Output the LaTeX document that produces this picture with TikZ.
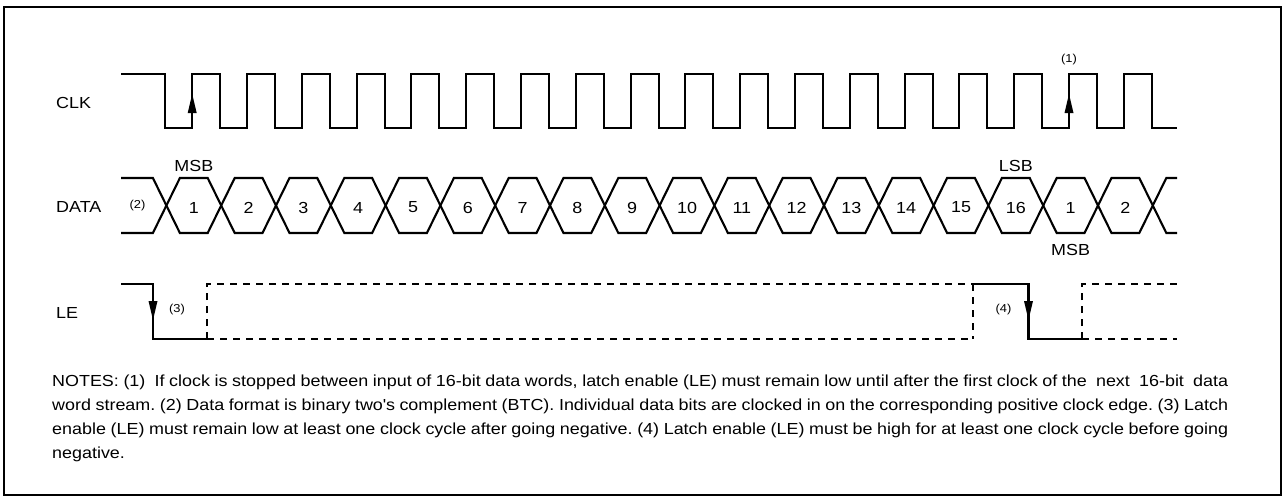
\documentclass[tikz,border=0pt]{standalone}
\usepackage{fontspec}
\setmainfont{Liberation Sans}[FakeStretch=1.12]
\frenchspacing
\begin{document}
\begin{tikzpicture}[x=1pt,y=-1pt,
  sig/.style={line width=2.1pt, line join=miter},
  dsh/.style={line width=2.1pt, dash pattern=on 7pt off 6pt},
  lbl/.style={font=\fontsize{16}{19}\selectfont, inner sep=0pt},
  sml/.style={font=\fontsize{11.5}{13}\selectfont, inner sep=0pt},
  note/.style={font=\fontsize{16}{24}\selectfont, inner sep=0pt, anchor=base west},
  tip/.style={fill=black}]
\useasboundingbox (0,0) rectangle (1283,498);
\draw[line width=1.6pt] (4,7) rectangle (1281,495);
% signal names
\node[lbl, anchor=west] (clk) at (56,102.5) {CLK};
\node[lbl, anchor=west] (data) at (56,207) {DATA};
\node[lbl, anchor=west] (le) at (56,313) {LE};
% CLK waveform
\draw[sig] (121,74) \foreach \k in {0,...,17} {
   -- ({165.4+54.8*\k},74) -- ({165.4+54.8*\k},128)
   -- ({192.2+54.8*\k},128) -- ({192.2+54.8*\k},74) }
   -- (1151.8,74) -- (1151.8,128) -- (1177,128);
\fill[tip] (187.7,113) -- (196.7,113) -- (192.2,94) -- cycle;
\fill[tip] (1064.5,113) -- (1073.5,113) -- (1069,94) -- cycle;
\node[sml] (n1) at (1069,60) {(1)};
% DATA waveform
\draw[sig] (121,178) \foreach \k in {0,...,18} {
   -- ({166.4+54.8*\k-13.5},{178+55*mod(\k,2)})
   -- ({166.4+54.8*\k+13.5},{233-55*mod(\k,2)}) } -- (1177,233);
\draw[sig] (121,233) \foreach \k in {0,...,18} {
   -- ({166.4+54.8*\k-13.5},{233-55*mod(\k,2)})
   -- ({166.4+54.8*\k+13.5},{178+55*mod(\k,2)}) } -- (1177,178);
\node[sml] (n2) at (137.5,206) {(2)};
\foreach \t [count=\i] in {1,2,3,4,5,6,7,8,9,10,11,12,13,14,15,16,1,2}
  \node[lbl] (d\i) at ({193.8+54.8*(\i-1)},207.5) {\t};
\node[lbl] (msb1) at (193.8,166) {MSB};
\node[lbl] (lsb) at (1015.8,166) {LSB};
\node[lbl] (msb2) at (1070.6,250) {MSB};
% LE waveform
\draw[sig] (121,284) -- (153,284) -- (153,339) -- (207,339);
\fill[tip] (148.5,301) -- (157.5,301) -- (153,320) -- cycle;
\draw[dsh] (207,339) -- (207,284) -- (973,284);
\draw[dsh] (207,339) -- (973,339);
\draw[dsh] (973,284) -- (973,339);
\draw[sig] (973,284) -- (1028.5,284) -- (1028.5,339) -- (1082,339);
\fill[tip] (1024,301) -- (1033,301) -- (1028.5,320) -- cycle;
\draw[dsh] (1082,339) -- (1082,284) -- (1177,284);
\draw[dsh] (1082,339) -- (1177,339);
\node[sml] (n3) at (177,309.5) {(3)};
\node[sml] (n4) at (1003.5,310) {(4)};
% notes
\node[note] (l1) at (52,386) {\makebox[1176pt][s]{NOTES: (1)\ \ If clock is stopped between input of 16-bit data words, latch enable (LE) must remain low until after the first clock of the\ \ next\ \ 16-bit\ \ data}};
\node[note] (l2) at (52,410) {\makebox[1176pt][s]{word stream. (2) Data format is binary two\textquotesingle s complement (BTC). Individual data bits are clocked in on the corresponding positive clock edge. (3) Latch}};
\node[note] (l3) at (52,434) {\makebox[1176pt][s]{enable (LE) must remain low at least one clock cycle after going negative. (4) Latch enable (LE) must be high for at least one clock cycle before going}};
\node[note] (l4) at (52,458) {negative.};
\end{tikzpicture}
\end{document}
